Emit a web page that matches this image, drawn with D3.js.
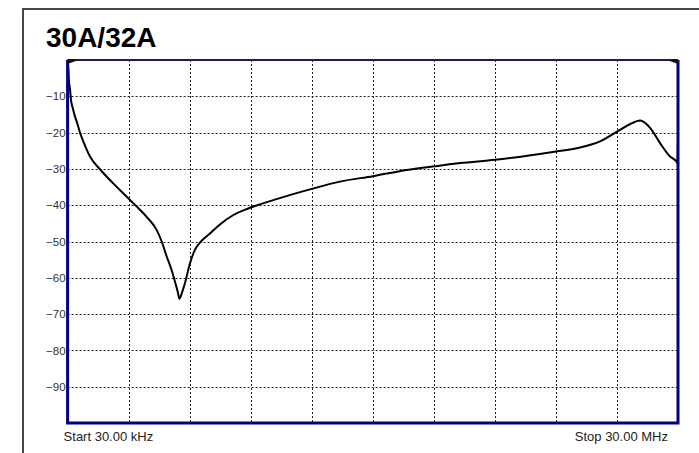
<!DOCTYPE html>
<html>
<head>
<meta charset="utf-8">
<script src="https://cdn.jsdelivr.net/npm/d3@7"></script>
<style>
  html, body { margin: 0; padding: 0; background: #fff; }
  svg { display: block; }
</style>
</head>
<body>
<div id="chart"></div>
<script>
// Trace: frequency in MHz, level in dB
const freqMHz = [0.03, 0.064, 0.099, 0.148, 0.197, 0.295, 0.393, 0.492, 0.639, 0.835,
  1.13, 1.62, 2.27, 2.85, 3.37, 3.91, 4.40, 4.65, 4.90, 5.14,
  5.30, 5.44, 5.52, 5.62, 5.79, 6.04, 6.28, 6.61, 7.02, 7.51,
  8.17, 8.90, 10.13, 12.02, 13.40, 15.02, 16.68, 18.02, 19.30, 21.02,
  24.01, 25.19, 26.17, 27.01, 27.64, 28.14, 28.63, 29.12, 29.61, 29.90,
  29.97, 30.0];
const levelDb = [0, -2, -6, -8, -11, -13.5, -15.6, -17.2, -20, -22.9,
  -26.6, -30.1, -34, -37.2, -40.1, -43.2, -46.8, -50, -54.2, -57.9,
  -61, -63.9, -65.8, -64.5, -61.5, -56, -52.3, -49.8, -47.8, -45.3,
  -42.7, -40.9, -38.6, -35.5, -33.5, -32, -30.3, -29.3, -28.4, -27.5,
  -25.2, -24.1, -22.4, -19.7, -17.7, -16.7, -18.7, -22.9, -26.6, -27.8,
  -28.3, -21.5];

const yTicks = [-10, -20, -30, -40, -50, -60, -70, -80, -90];
const xDomain = [0.03, 30];
const yDomain = [-100, 0];
const xDivisions = 10;
const title = "30A/32A";
const startLabel = "Start 30.00 kHz";
const stopLabel = "Stop 30.00 MHz";

const W = 699, H = 453;
const plot = { left: 67.6, right: 678, top: 60, bottom: 423 };

const svg = d3.select("#chart").append("svg")
  .attr("width", W).attr("height", H);

svg.append("rect").attr("width", W).attr("height", H).attr("fill", "#fff");

// outer frame (runs off the right and bottom edges)
svg.append("rect")
  .attr("x", 23).attr("y", 9)
  .attr("width", W + 20).attr("height", H + 20)
  .attr("fill", "none")
  .attr("stroke", "#1a1a1a")
  .attr("stroke-width", 1.6);

svg.append("text")
  .attr("x", 46).attr("y", 47)
  .attr("font-family", "Arial, 'Liberation Sans', sans-serif")
  .attr("font-weight", "bold")
  .attr("font-size", "28px")
  .attr("fill", "#000")
  .text(title);

const x = d3.scaleLinear().domain(xDomain).range([plot.left, plot.right]);
const y = d3.scaleLinear().domain(yDomain).range([plot.bottom, plot.top]);

const grid = svg.append("g")
  .attr("stroke", "#222")
  .attr("stroke-width", 1)
  .attr("stroke-dasharray", "2,2");

const xGrid = d3.range(1, xDivisions).map(i => xDomain[0] + i * (xDomain[1] - xDomain[0]) / xDivisions);
grid.selectAll(".vg").data(xGrid).enter().append("line")
  .attr("x1", d => Math.round(x(d)) + 0.5).attr("x2", d => Math.round(x(d)) + 0.5)
  .attr("y1", plot.top).attr("y2", plot.bottom);

grid.selectAll(".hg").data(yTicks).enter().append("line")
  .attr("y1", d => Math.round(y(d)) + 0.5).attr("y2", d => Math.round(y(d)) + 0.5)
  .attr("x1", plot.left).attr("x2", plot.right);

// y labels
const yAxis = svg.append("g")
  .attr("transform", `translate(${plot.left - 1},0)`)
  .call(d3.axisLeft(y).tickValues(yTicks).tickSize(0).tickPadding(1));
yAxis.select(".domain").remove();
yAxis.selectAll("text")
  .attr("font-family", "Arial, 'Liberation Sans', sans-serif")
  .attr("font-size", "11.5px")
  .attr("fill", "#333");

// trace
const pts = freqMHz.map((f, i) => [f, levelDb[i]]);
const line = d3.line().x(d => x(d[0])).y(d => y(d[1])).curve(d3.curveMonotoneX);
svg.append("path")
  .datum(pts)
  .attr("d", line)
  .attr("fill", "none")
  .attr("stroke", "#000")
  .attr("stroke-width", 2)
  .attr("stroke-linejoin", "round");

// plot frame
svg.append("line")
  .attr("x1", plot.left).attr("x2", plot.right)
  .attr("y1", plot.top).attr("y2", plot.top)
  .attr("stroke", "#1c1c5a").attr("stroke-width", 2);
svg.append("path")
  .attr("d", `M${plot.left},${plot.top} V${plot.bottom} H${plot.right} V${plot.top}`)
  .attr("fill", "none")
  .attr("stroke", "#000080")
  .attr("stroke-width", 3);

// reference markers in the top corners
svg.append("path")
  .attr("d", `M${plot.left},${plot.top - 1} L${plot.left + 11},${plot.top} L${plot.left},${plot.top + 4}Z`)
  .attr("fill", "#111");
svg.append("path")
  .attr("d", `M${plot.right},${plot.top - 1} L${plot.right - 11},${plot.top} L${plot.right},${plot.top + 4}Z`)
  .attr("fill", "#111");

// start / stop labels
svg.append("text")
  .attr("x", plot.left - 4).attr("y", 441)
  .attr("font-family", "Arial, 'Liberation Sans', sans-serif")
  .attr("font-size", "13px")
  .attr("fill", "#222")
  .text(startLabel);
svg.append("text")
  .attr("x", plot.right - 10).attr("y", 441)
  .attr("text-anchor", "end")
  .attr("font-family", "Arial, 'Liberation Sans', sans-serif")
  .attr("font-size", "13px")
  .attr("fill", "#222")
  .text(stopLabel);
</script>
</body>
</html>
